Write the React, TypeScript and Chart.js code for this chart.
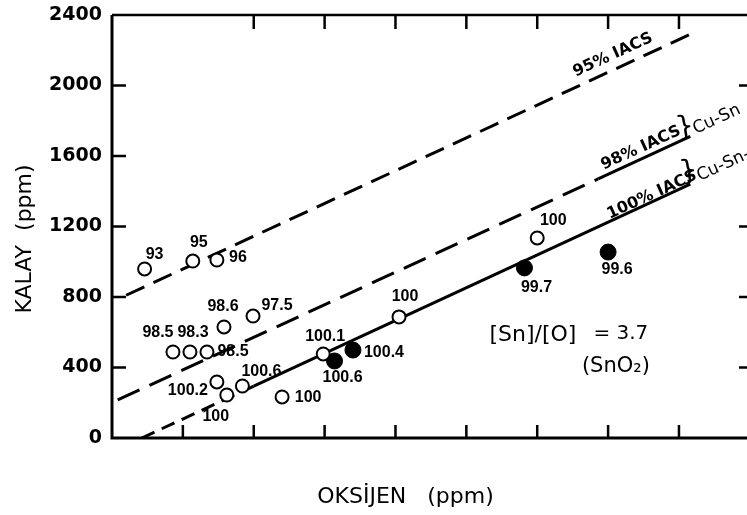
import React, { useEffect, useRef } from 'react';
import { Chart, registerables } from 'chart.js';

Chart.register(...registerables);

// ---- data (ppm) ----
const openX = [23, 57, 74, 79, 99.5, 43, 55, 67, 74, 81, 92, 120, 149, 202.5, 300];
const openY = [959, 1004, 1010, 630, 692, 488, 488, 488, 318, 244, 295, 233, 477, 687, 1135];
const openLabels = ['93', '95', '96', '98.6', '97.5', '98.5', '98.3', '98.5', '100.2', '100', '100.6', '100', '100.1', '100', '100'];

const filledX = [157, 170, 291, 350];
const filledY = [437, 499, 965, 1055];
const filledLabels = ['100.6', '100.4', '99.7', '99.6'];

const line95X = [10, 410];
const line95Y = [810, 2298];
const line98X = [4, 343, 408];
const line98Y = [216, 1470, 1711];
const line100X = [21, 100, 408];
const line100Y = [0, 294, 1440];

const xTickLabels = ['100', '200', '300', '400'];
const yTickValues = [0, 400, 800, 1200, 1600, 2000, 2400];

// label offsets in pixels (style only)
const openLabelOffsets = [
  [10, -14], [6, -18], [21, -2], [-1, -20], [24, -10], [-15, -19], [3, -19], [26, 0],
  [-29, 9], [-11, 22], [19, -14], [26, 1], [2, -17], [6, -20], [16, -17],
];
const filledLabelOffsets = [[8, 17], [31, 3], [12, 20], [9, 18]];

const toPts = (xs: number[], ys: number[]) => xs.map((x, i) => ({ x, y: ys[i] }));

const zeroPad = (s: any) => {
  s.paddingLeft = 0;
  s.paddingRight = 0;
  s.paddingTop = 0;
  s.paddingBottom = 0;
};

const framePlugin = {
  id: 'frameAndText',
  afterDraw(chart: any) {
    const ctx: CanvasRenderingContext2D = chart.ctx;
    const { left, right, top, bottom } = chart.chartArea;
    const xs = chart.scales.x;
    const ys = chart.scales.y;
    ctx.save();
    ctx.strokeStyle = '#000';
    ctx.fillStyle = '#000';
    ctx.lineCap = 'butt';
    // frame
    ctx.lineWidth = 3;
    ctx.beginPath();
    ctx.moveTo(left, top);
    ctx.lineTo(left, bottom);
    ctx.lineTo(right, bottom);
    ctx.stroke();
    ctx.lineWidth = 2.5;
    ctx.beginPath();
    ctx.moveTo(left, top);
    ctx.lineTo(right, top);
    ctx.stroke();
    // inward ticks
    ctx.lineWidth = 2.5;
    ctx.beginPath();
    [400, 800, 1200, 1600, 2000].forEach((v) => {
      const p = ys.getPixelForValue(v);
      ctx.moveTo(left, p);
      ctx.lineTo(left + 14, p);
    });
    [400, 800, 1200, 2000].forEach((v) => {
      const p = ys.getPixelForValue(v);
      ctx.moveTo(right, p);
      ctx.lineTo(right - 8, p);
    });
    [100, 150, 200, 250, 300, 350, 400].forEach((v) => {
      const p = xs.getPixelForValue(v);
      ctx.moveTo(p, top);
      ctx.lineTo(p, top + 14);
    });
    [50, 100, 150, 200, 250, 300, 350, 400].forEach((v) => {
      const p = xs.getPixelForValue(v);
      ctx.moveTo(p, bottom);
      ctx.lineTo(p, bottom - 13);
    });
    ctx.stroke();

    const text = (s: string, x: number, y: number, font: string, angle = 0, align: CanvasTextAlign = 'center') => {
      ctx.save();
      ctx.translate(x, y);
      ctx.rotate(angle);
      ctx.font = font;
      ctx.textAlign = align;
      ctx.textBaseline = 'middle';
      ctx.fillText(s, 0, 0);
      ctx.restore();
    };
    const px = (v: number) => xs.getPixelForValue(v);
    const py = (v: number) => ys.getPixelForValue(v);

    // point labels
    const lf = 'bold 16px "Liberation Sans", Arial, sans-serif';
    openX.forEach((x, i) => {
      text(openLabels[i], px(x) + openLabelOffsets[i][0], py(openY[i]) + openLabelOffsets[i][1], lf);
    });
    filledX.forEach((x, i) => {
      text(filledLabels[i], px(x) + filledLabelOffsets[i][0], py(filledY[i]) + filledLabelOffsets[i][1], lf);
    });

    // line angle from the scales
    const ang = Math.atan2(py(line98Y[2]) - py(line98Y[0]), px(line98X[2]) - px(line98X[0]));
    const bf = 'bold 16px "DejaVu Sans", sans-serif';
    text('95% IACS', px(353.4), py(2173), bf, ang);
    text('98% IACS', px(373.2), py(1645), bf, ang);
    text('100% IACS', px(381), py(1379), bf, ang);
    text('}', px(404.2), py(1759), '28px "DejaVu Sans", sans-serif', ang * 0.4);
    text('}', px(407), py(1509), '28px "DejaVu Sans", sans-serif', ang * 0.4);
    text('Cu-Sn', px(410.5), py(1748), '17px "DejaVu Sans", sans-serif', ang, 'left');
    text('Cu-Sn-', px(413.3), py(1481), '17px "DejaVu Sans", sans-serif', ang, 'left');

    text('[Sn]/[O]', px(297), py(584), '22px "DejaVu Sans", sans-serif');
    text('= 3.7', px(359), py(590), '20px "DejaVu Sans", sans-serif');
    text('(SnO\u2082)', px(355.5), py(408), '21px "DejaVu Sans", sans-serif');

    // axis titles
    text('OKSİJEN   (ppm)', 405.5, 497, '22px "DejaVu Sans", sans-serif');
    text('KALAY  (ppm)', 25, 239, '22px "DejaVu Sans", sans-serif', -Math.PI / 2);
    ctx.restore();
  },
};

export default function App() {
  const ref = useRef<HTMLCanvasElement>(null);
  useEffect(() => {
    if (!ref.current) return;
    const chart = new Chart(ref.current, {
      type: 'scatter',
      data: {
        datasets: [
          {
            type: 'scatter',
            data: toPts(openX, openY),
            pointRadius: 6.5,
            pointBackgroundColor: '#fff',
            pointBorderColor: '#000',
            pointBorderWidth: 2,
            order: 0,
          } as any,
          {
            type: 'scatter',
            data: toPts(filledX, filledY),
            pointRadius: 8,
            pointBackgroundColor: '#000',
            pointBorderColor: '#000',
            pointBorderWidth: 1,
            order: 0,
          } as any,
          {
            type: 'line',
            data: toPts(line95X, line95Y),
            borderColor: '#000',
            borderWidth: 3,
            borderDash: [20, 10],
            pointRadius: 0,
            fill: false,
            tension: 0,
            order: 1,
          } as any,
          {
            type: 'line',
            data: toPts(line98X, line98Y),
            borderColor: '#000',
            borderWidth: 3,
            pointRadius: 0,
            fill: false,
            tension: 0,
            order: 1,
            segment: { borderDash: (c: any) => (c.p0DataIndex === 0 ? [24, 11] : []) },
          } as any,
          {
            type: 'line',
            data: toPts(line100X, line100Y),
            borderColor: '#000',
            borderWidth: 3,
            pointRadius: 0,
            fill: false,
            tension: 0,
            order: 1,
            segment: { borderDash: (c: any) => (c.p0DataIndex === 0 ? [14, 8] : []) },
          } as any,
        ],
      },
      options: {
        animation: false,
        responsive: false,
        events: [],
        plugins: { legend: { display: false }, tooltip: { enabled: false } },
        layout: { autoPadding: false, padding: { top: 15, right: 0, left: 0, bottom: 0 } },
        scales: {
          x: {
            type: 'linear',
            min: 0,
            max: 448,
            grid: { display: false, drawTicks: false },
            border: { display: false },
            ticks: {
              stepSize: 50,
              autoSkip: false,
              maxRotation: 0,
              padding: 4,
              color: '#000',
              font: { family: '"DejaVu Sans", sans-serif', size: 19 },
              callback: (v: any) => (xTickLabels.includes(String(v)) ? String(v) : ''),
            },
            afterFit: (s: any) => {
              s.height = 77;
              zeroPad(s);
            },
          },
          y: {
            type: 'linear',
            min: 0,
            max: 2400,
            grid: { display: false, drawTicks: false },
            border: { display: false },
            ticks: {
              stepSize: 400,
              padding: 10,
              color: '#000',
              font: { family: '"DejaVu Sans", sans-serif', size: 19, weight: 'bold' },
              callback: (v: any) => (yTickValues.includes(Number(v)) ? String(v) : ''),
            },
            afterFit: (s: any) => {
              s.width = 112;
              zeroPad(s);
            },
          },
        },
      } as any,
      plugins: [framePlugin],
    });
    return () => chart.destroy();
  }, []);
  return (
    <div style={{ position: 'absolute', left: 0, top: 0, width: 747, height: 515, background: '#fff' }}>
      <canvas ref={ref} width={747} height={515} style={{ display: 'block' }} />
    </div>
  );
}
